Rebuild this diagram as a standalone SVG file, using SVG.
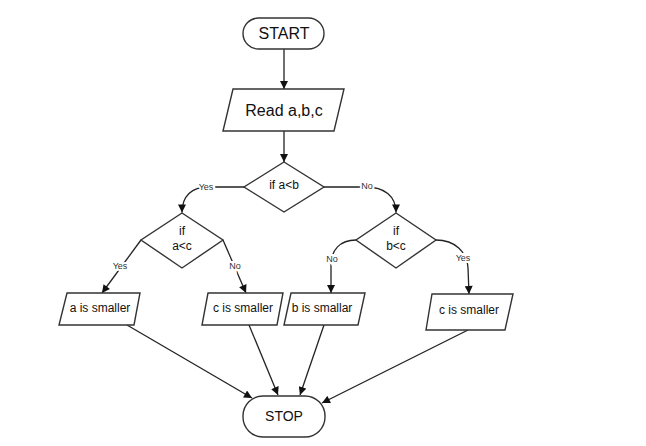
<svg xmlns="http://www.w3.org/2000/svg" width="646" height="446" viewBox="0 0 646 446">
<style>
.shape{fill:#fff;stroke:#333;stroke-width:1.4}
.txt{font-family:"Liberation Sans",Arial,sans-serif;fill:#111;text-anchor:middle;dominant-baseline:central}
.conn path{fill:none;stroke:#222;stroke-width:1.3;marker-end:url(#arr)}
.lbl{font-family:"Liberation Sans",Arial,sans-serif;font-size:9px;fill:#333;text-anchor:middle;dominant-baseline:central;stroke:#fff;stroke-width:4;paint-order:stroke}
</style>
<defs>
<marker id="arr" markerUnits="userSpaceOnUse" viewBox="0 0 10 10" refX="10" refY="5" markerWidth="9" markerHeight="8" orient="auto">
<path d="M0,0 L10,5 L0,10 z" fill="#111"/>
</marker>
</defs>
<rect width="646" height="446" fill="#fff"/>
<g class="conn">
<path d="M284,49 L284,89"/>
<path d="M284,131 L284,162"/>
<path d="M244,187 L208,187 C192,187 182,196 182,212.5"/>
<path d="M324,187 L366,187 C384,187 396,196 396,212.5"/>
<path d="M141,240 L102,293"/>
<path d="M223,240 L246,293"/>
<path d="M356,240 C340,240 331,250 331,265 L331,293"/>
<path d="M436,240 C455,240 467,252 468,268 L469,294"/>
<path d="M127,325 L252,398"/>
<path d="M249,325 L278,395"/>
<path d="M324,325 L300,395"/>
<path d="M468,330 L322,403"/>
<text class="lbl" x="206" y="187">Yes</text>
<text class="lbl" x="367" y="186">No</text>
<text class="lbl" x="120" y="266">Yes</text>
<text class="lbl" x="235" y="266">No</text>
<text class="lbl" x="332" y="259">No</text>
<text class="lbl" x="463" y="258">Yes</text>
</g>
<g id="start">
<rect class="shape" x="243" y="18" width="81" height="31" rx="15.5"/>
<text class="txt" x="284" y="33" font-size="16">START</text>
</g>
<g id="read">
<polygon class="shape" points="233,89 344,89 334,131 223,131"/>
<text class="txt" x="284" y="110" font-size="16">Read a,b,c</text>
</g>
<g id="ifab">
<polygon class="shape" points="284,162 324,187 284,212 244,187"/>
<text class="txt" x="284" y="185" font-size="12">if a&lt;b</text>
</g>
<g id="ifac">
<polygon class="shape" points="182,213 223,240 182,268 141,240"/>
<text class="txt" x="182" y="231" font-size="12">if</text>
<text class="txt" x="182" y="246" font-size="12">a&lt;c</text>
</g>
<g id="ifbc">
<polygon class="shape" points="396,213 436,240 396,268 356,240"/>
<text class="txt" x="396" y="231" font-size="12">if</text>
<text class="txt" x="396" y="246" font-size="12">b&lt;c</text>
</g>
<g id="asmall">
<polygon class="shape" points="67,293 140,293 134,325 59,325"/>
<text class="txt" x="100" y="308" font-size="12">a is smaller</text>
</g>
<g id="csmall1">
<polygon class="shape" points="208,293 283,293 277,325 202,325"/>
<text class="txt" x="243" y="308" font-size="12">c is smaller</text>
</g>
<g id="bsmall">
<polygon class="shape" points="291,293 365,293 358,325 284,325"/>
<text class="txt" x="322" y="308" font-size="12">b is smallar</text>
</g>
<g id="csmall2">
<polygon class="shape" points="432,294 513,294 505,330 426,330"/>
<text class="txt" x="469" y="310" font-size="12">c is smaller</text>
</g>
<g id="stop">
<rect class="shape" x="243" y="396" width="82" height="41" rx="20"/>
<text class="txt" x="284" y="416" font-size="14">STOP</text>
</g>
</svg>
